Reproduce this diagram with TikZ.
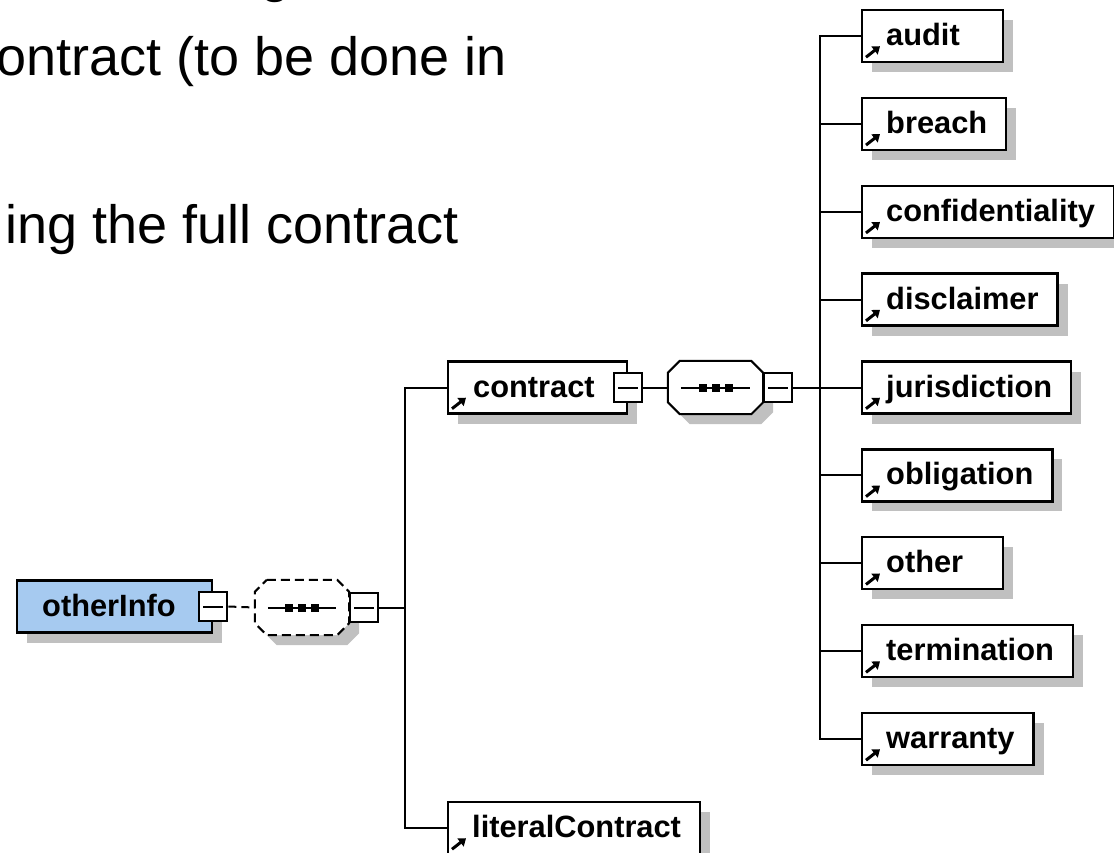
\documentclass[tikz,border=0pt]{standalone}
\usepackage{fontspec}
\setmainfont{Liberation Sans}
\usetikzlibrary{shadows,arrows.meta,calc}
\definecolor{shadowgray}{HTML}{C0C0C0}
\definecolor{rootblue}{HTML}{A6CAF0}
\newlength\elw
\newcommand\elt[1]{\settowidth\elw{#1}\ifdim\elw<98pt\setlength\elw{98pt}\fi\hspace*{24pt}\makebox[\elw][l]{#1}\hspace*{19pt}}
\newcommand\elemfont{\fontsize{30.8}{36}\selectfont\bfseries}
\newcommand\octpath[1]{([xshift=12pt]#1.north west) -- ([xshift=-12pt]#1.north east) -- ([yshift=-12pt]#1.north east) -- ([yshift=12pt]#1.south east) -- ([xshift=-12pt]#1.south east) -- ([xshift=12pt]#1.south west) -- ([yshift=12pt]#1.south west) -- ([yshift=-12pt]#1.north west) -- cycle}
\tikzset{
  elem/.style={draw=black, line width=2.4pt, fill=white, text=black, anchor=west,
    inner xsep=0pt, inner ysep=0pt, minimum height=52pt, text height=22pt, text depth=3pt,
    font=\elemfont,
    drop shadow={shadow xshift=10pt, shadow yshift=-10pt, opacity=1, fill=shadowgray}},
  rootbox/.style={elem, fill=rootblue},
  minusbox/.style={draw=black, line width=2pt, fill=white, minimum width=28pt, minimum height=29pt, inner sep=0pt,
    path picture={\draw[line width=2pt] ([xshift=4pt]path picture bounding box.west) -- ([xshift=-4pt]path picture bounding box.east);}},
  seqnode/.style={draw=none, inner sep=0pt},
  conn/.style={line width=2pt, draw=black},
  icon/.style={line width=3pt, -{Triangle[length=7pt,width=10pt]}},
  bigtext/.style={inner sep=0pt, anchor=base east, font=\fontsize{54}{64}\selectfont, text=black},
}
\begin{document}
\begin{tikzpicture}[x=1pt,y=-1pt]
\useasboundingbox (0,0) rectangle (1114,852);
\clip (0,0) rectangle (1114,852);
\fill[white] (0,0) rectangle (1114,852);

% slide text
\node[inner sep=0pt, anchor=base west, font=\fontsize{54}{64}\selectfont] (gfrag) at (260,-9) {g};
\node[bigtext] (line1) at (507,75) {contract (to be done in};
\node[bigtext] (line2) at (459,243) {ing the full contract};

% root
\node[rootbox] (otherInfo) at (16,606.5) {\makebox[195pt][l]{\hspace*{25pt}otherInfo}};
\node[minusbox] (om) at (otherInfo.east) {};

% dashed sequence
\node[seqnode, minimum width=94pt, minimum height=55pt] (seq0) at (302,607.5) {};
\fill[shadowgray, transform canvas={shift={(10pt,-10pt)}}] \octpath{seq0};
\fill[white] \octpath{seq0};
\draw[line width=2pt, dash pattern=on 9pt off 5pt] \octpath{seq0};
\draw[line width=2pt] ([xshift=13pt]seq0.west) -- ([xshift=-13pt]seq0.east);
\foreach \dx in {-13,0,13} \fill ([xshift=\dx pt]seq0.center) +(-4pt,-4pt) rectangle +(4pt,4pt);
\node[minusbox, anchor=west] (sm0) at (seq0.east) {};
\draw[conn, dash pattern=on 8pt off 5pt] (om.east) -- (seq0.west);

% level 1
\node[elem] (contract) at (447,387.5) {\makebox[179pt][l]{\hspace*{25pt}contract}};
\node[elem] (literal) at (447,828) {\elt{literalContract}};
\coordinate (b0) at (405,607.5);
\draw[conn] (sm0.east) -- (b0);
\draw[conn] (contract.west) -| (b0) |- (literal.west);
\draw[icon] ([xshift=5pt,yshift=6pt]contract.south west) -- ++(14pt,11pt);
\draw[icon] ([xshift=5pt,yshift=6pt]literal.south west) -- ++(14pt,11pt);
\node[minusbox] (cm) at (contract.east) {};

% sequence of contract
\node[seqnode, minimum width=95pt, minimum height=53pt] (seq1) at (715.5,387.5) {};
\fill[shadowgray, transform canvas={shift={(10pt,-10pt)}}] \octpath{seq1};
\filldraw[fill=white, line width=2pt] \octpath{seq1};
\draw[line width=2pt] ([xshift=13pt]seq1.west) -- ([xshift=-13pt]seq1.east);
\foreach \dx in {-13,0,13} \fill ([xshift=\dx pt]seq1.center) +(-4pt,-4pt) rectangle +(4pt,4pt);
\node[minusbox, anchor=west] (sm1) at (seq1.east) {};
\draw[conn] (cm.east) -- (seq1.west);
\coordinate (b1) at (820,387.5);
\draw[conn] (sm1.east) -- (b1);

% children
\foreach \nm/\txt [count=\k from 0] in {audit/audit, breach/breach, conf/confidentiality, disc/disclaimer, juris/jurisdiction, oblig/obligation, other/other, term/termination, warr/warranty}{
  \node[elem] (\nm) at (861, 387.5+87.875*\k-351.5) {\elt{\txt}};
  \draw[icon] ([xshift=5pt,yshift=6pt]\nm.south west) -- ++(14pt,11pt);
}
\draw[conn] (audit.west) -| (b1) |- (warr.west);
\foreach \nm in {breach,conf,disc,juris,oblig,other,term}
  \draw[conn] (\nm.west) -- (\nm.west -| b1);
\end{tikzpicture}
\end{document}
